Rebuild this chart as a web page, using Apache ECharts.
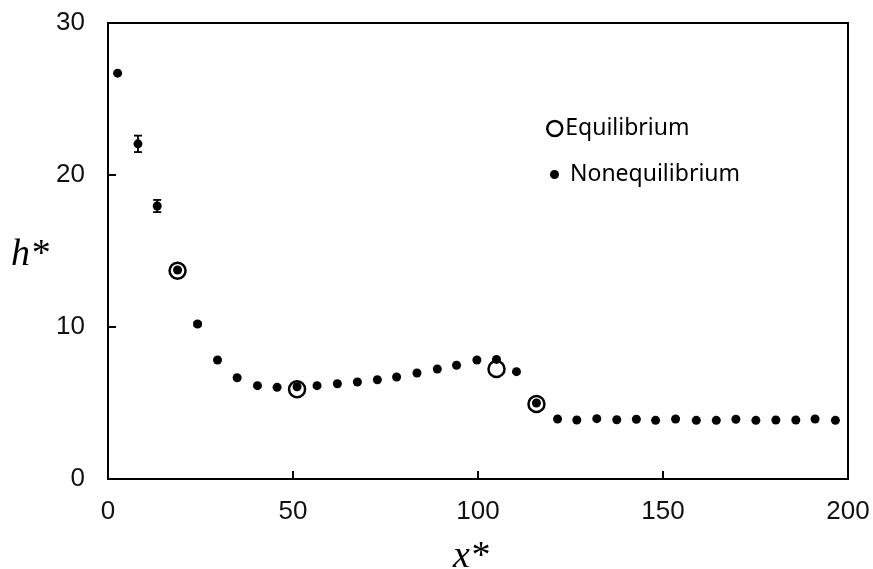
<!DOCTYPE html>
<html>
<head>
<meta charset="utf-8">
<script src="https://cdn.jsdelivr.net/npm/echarts@6/dist/echarts.min.js"></script>
<style>html,body{margin:0;padding:0;background:#fff}#c{width:873px;height:569px}</style>
</head>
<body>
<div id="c"></div>
<script>
const xNon = [2.6, 8.1, 13.3, 18.8, 24.2, 29.6, 34.9, 40.4, 45.7, 51.1, 56.5, 62.0, 67.4, 72.8, 78.0, 83.5, 89.0, 94.2, 99.7, 105.0, 110.4, 115.8, 121.5, 126.7, 132.1, 137.5, 142.8, 148.0, 153.4, 159.0, 164.4, 169.7, 175.1, 180.5, 185.9, 191.1, 196.6];
const yNon = [26.7, 22.05, 17.96, 13.75, 10.2, 7.83, 6.66, 6.14, 6.03, 6.07, 6.14, 6.27, 6.38, 6.53, 6.71, 6.97, 7.24, 7.48, 7.83, 7.87, 7.06, 5.0, 3.95, 3.88, 3.97, 3.90, 3.93, 3.86, 3.95, 3.86, 3.86, 3.93, 3.86, 3.88, 3.88, 3.95, 3.86];
const xEq = [18.8, 51.1, 105.0, 115.8];
const yEq = [13.7, 5.9, 7.24, 4.93];
const errX = [8.1, 13.3, 24.2];
const errY = [22.05, 17.96, 10.2];
const errSize = [0.54, 0.4, 0.12];
const xTicks = [0, 50, 100, 150, 200];
const yTicks = [0, 10, 20, 30];

const chart = echarts.init(document.getElementById('c'), null, {renderer: 'canvas'});
const tickFont = {fontFamily: 'Liberation Sans', fontSize: 26, color: '#111'};
chart.setOption({
  backgroundColor: '#fff',
  animation: false,
  grid: {left: 108, right: 25, top: 23, bottom: 90, show: true, borderColor: '#000', borderWidth: 2},
  xAxis: {
    type: 'value', min: xTicks[0], max: xTicks[xTicks.length - 1], interval: 50,
    axisLine: {show: true, lineStyle: {color: '#000', width: 2}},
    axisTick: {show: true, inside: true, length: 8, lineStyle: {color: '#000', width: 2}},
    axisLabel: Object.assign({margin: 20}, tickFont),
    splitLine: {show: false}
  },
  yAxis: {
    type: 'value', min: yTicks[0], max: yTicks[yTicks.length - 1], interval: 10,
    axisLine: {show: true, lineStyle: {color: '#000', width: 2}},
    axisTick: {show: true, inside: true, length: 8, lineStyle: {color: '#000', width: 2}},
    axisLabel: Object.assign({margin: 23}, tickFont),
    splitLine: {show: false}
  },
  legend: [
    {
      data: [{name: 'Equilibrium', icon: 'circle'}],
      left: 541, top: 112, itemWidth: 15, itemHeight: 15, itemGap: 0,
      itemStyle: {color: '#fff', borderColor: '#000', borderWidth: 2.5, opacity: 1},
      textStyle: {fontFamily: 'Noto Sans', fontSize: 23, color: '#000', padding: [0, 0, 0, -2]}
    },
    {
      data: [{name: 'Nonequilibrium', icon: 'circle'}],
      left: 545, top: 158, itemWidth: 9, itemHeight: 9, itemGap: 0,
      itemStyle: {color: '#000', opacity: 1},
      textStyle: {fontFamily: 'Noto Sans', fontSize: 23, color: '#000', padding: [0, 0, 0, 6]}
    }
  ],
  graphic: [
    {type: 'text', left: 11, top: 236, style: {text: 'h*', font: 'italic 38px "Liberation Serif"', fill: '#000'}},
    {type: 'text', left: 453, top: 538, style: {text: 'x*', font: 'italic 38px "Liberation Serif"', fill: '#000'}}
  ],
  series: [
    {
      name: 'Equilibrium', type: 'scatter', symbol: 'circle', symbolSize: 16, z: 3,
      itemStyle: {color: 'rgba(255,255,255,0)', borderColor: '#000', borderWidth: 2.5, opacity: 1},
      data: xEq.map((x, i) => [x, yEq[i]])
    },
    {
      name: 'Nonequilibrium', type: 'scatter', symbol: 'circle', symbolSize: 9, z: 4,
      itemStyle: {color: '#000', opacity: 1},
      data: xNon.map((x, i) => [x, yNon[i]])
    },
    {
      name: 'err', type: 'custom', z: 5, silent: true,
      data: errX.map((x, i) => [x, errY[i] - errSize[i], errY[i] + errSize[i]]),
      renderItem: function (params, api) {
        const lo = api.coord([api.value(0), api.value(1)]);
        const hi = api.coord([api.value(0), api.value(2)]);
        const w = 4;
        const st = {stroke: '#000', lineWidth: 1.8};
        return {type: 'group', children: [
          {type: 'line', shape: {x1: lo[0], y1: lo[1], x2: hi[0], y2: hi[1]}, style: st},
          {type: 'line', shape: {x1: lo[0] - w, y1: lo[1], x2: lo[0] + w, y2: lo[1]}, style: st},
          {type: 'line', shape: {x1: hi[0] - w, y1: hi[1], x2: hi[0] + w, y2: hi[1]}, style: st}
        ]};
      }
    }
  ]
});
</script>
</body>
</html>
